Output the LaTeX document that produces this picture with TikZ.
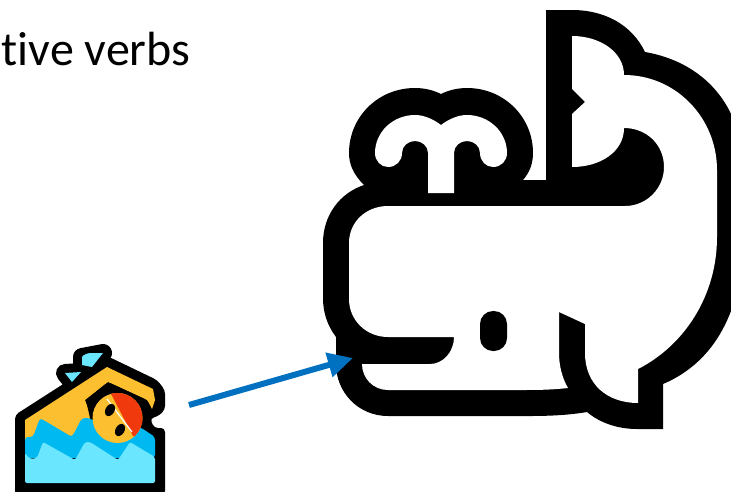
\documentclass[tikz,border=0pt]{standalone}
\usepackage{fontspec}
\setmainfont[Ligatures=NoCommon]{Carlito}
\usetikzlibrary{arrows.meta}
\definecolor{ArrowBlue}{HTML}{0070C0}
\definecolor{SwimYellow}{HTML}{FCBF30}
\definecolor{WaterDark}{HTML}{00B9F1}
\definecolor{WaterLight}{HTML}{6BE6FF}
\definecolor{CapRed}{HTML}{F1390E}
\tikzset{dropline/.style={draw=black,line width=18pt,line join=round}}

\begin{document}
\begin{tikzpicture}[x=1pt,y=-1pt,line join=round]
      \useasboundingbox (0,0) rectangle (731,491);
      \clip (0,0) rectangle (731,491);

      \node[anchor=base west,inner sep=0pt,font=\fontsize{48}{50}\selectfont] (verbs) at (1.5,65) {tive verbs};

      % whale
      \fill[black] (546,10) -- (572,10) .. controls (605,10) and (632,25) .. (645,52)
        .. controls (703,62) and (743,105) .. (743,170) -- (743,237)
        .. controls (743,310) and (715,362) .. (663,384) -- (663,429) -- (637,429)
        .. controls (618,429) and (600,423) .. (587,412)
        .. controls (570,415) and (550,416) .. (530,416) -- (388,416)
        .. controls (358,416) and (336,392) .. (336,364) -- (336,337)
        .. controls (327,325) and (323,312) .. (323,298) -- (323,243)
        .. controls (323,215) and (340,193) .. (364,185)
        .. controls (354,175) and (349,165) .. (349,153)
        .. controls (349,117) and (378,88) .. (415,88)
        .. controls (424,88) and (433,90) .. (441,94)
        .. controls (449,90) and (458,88) .. (467,88)
        .. controls (504,88) and (533,117) .. (533,153)
        .. controls (533,163) and (530,172) .. (523,180) -- (546,180) -- cycle;
      \fill[white] (572,36) .. controls (600,36) and (624,52) .. (624,75)
        .. controls (676,75) and (717,118) .. (717,170) -- (717,237)
        .. controls (717,295) and (685,345) .. (638,369) -- (638,403)
        .. controls (608,403) and (585,385) .. (585,353) -- (585,324) -- (559,312) -- (559,353)
        .. controls (559,365) and (562,378) .. (568,388)
        .. controls (550,390) and (535,390) .. (520,390) -- (388,390)
        .. controls (373,390) and (362,378) .. (362,364) -- (430,364)
        .. controls (443,364) and (454,352) .. (454,337) -- (388,337)
        .. controls (366,337) and (349,320) .. (349,299) -- (349,243)
        .. controls (349,222) and (366,206) .. (388,206) -- (625,206)
        .. controls (647,206) and (664,188) .. (664,167)
        .. controls (664,145) and (647,128) .. (624,128)
        .. controls (624,152) and (600,167) .. (572,167) -- (572,114) -- (585,102) -- (572,89) -- cycle;
      \fill[white] (441,125) .. controls (433,119) and (424,115) .. (415,115)
        .. controls (393,115) and (375,132) .. (375,153)
        .. controls (375,161) and (381,167) .. (388,167)
        .. controls (396,167) and (402,161) .. (402,153)
        .. controls (402,146) and (408,141) .. (415,141)
        .. controls (422,141) and (428,146) .. (428,153) -- (428,193) -- (454,193) -- (454,153)
        .. controls (454,146) and (460,141) .. (467,141)
        .. controls (474,141) and (480,146) .. (480,153)
        .. controls (480,161) and (486,167) .. (493,167)
        .. controls (501,167) and (507,161) .. (507,153)
        .. controls (507,132) and (489,115) .. (467,115)
        .. controls (458,115) and (449,119) .. (441,125) -- cycle;
      \fill[black,rounded corners=13pt] (480,311) rectangle (507,351);

      % swimmer
      \draw[dropline] (65,373) -- (81,372) -- (72,382) -- cycle;
      \draw[dropline] (82,357) -- (103,353) -- (92,367) -- (82,365) -- cycle;
      \fill[black,rounded corners=4pt] (15,415) -- (107,356) -- (157,380) -- (165,390)
        -- (165,410) -- (157,417) -- (150,418) -- (154,428) -- (165,428) -- (165,495) -- (15,495) -- cycle;
      \fill[SwimYellow] (25,420) -- (107,367) -- (153,389) -- (155,400) -- (152,409) -- (147,400)
        -- (108,382) -- (85,400) -- (100,440) -- (25,440) -- cycle;
      \fill[black,rounded corners=3pt] (86,400) -- (108,382) -- (147,400) -- (152,409) -- (148,422) -- (120,450) -- (95,440) -- cycle;
      \fill[WaterDark,rounded corners=3pt] (25,437) -- (33,437) -- (40,418) -- (72,437) -- (82,418) -- (90,418)
        -- (115,437) -- (140,427) -- (155,437) -- (155,458) -- (25,458) -- cycle;
      \fill[WaterLight,rounded corners=2pt] (25,453) -- (30,459) -- (37,458) -- (43,442) -- (75,460) -- (85,442)
        -- (90,442) -- (118,460) -- (130,442) -- (155,457) -- (155,483) -- (25,483) -- cycle;
      \fill[SwimYellow] (117.5,418) circle[radius=25];
      \begin{scope}
        \clip (117.5,418) circle[radius=25];
        \fill[CapRed] (109,390) -- (150,390) -- (150,440) -- (133,436) -- cycle;
      \end{scope}
      \draw[white,line width=1.2pt] (107,399) -- (132,432);
      \fill[black,rotate around={-30:(110,410)}] (110,410) ellipse[x radius=4.5,y radius=6.5];
      \fill[black,rotate around={-30:(120,430)}] (120,430) ellipse[x radius=4.5,y radius=6.5];
      \fill[WaterLight] (65,373) -- (81,372) -- (72,382) -- cycle;
      \fill[WaterLight] (82,357) .. controls (84,354) and (88,353) .. (92,353) -- (103,353) -- (92,367) -- (82,365) -- cycle;

      \coordinate (swimmer) at (189,405);
      \coordinate (mouth) at (353,358);
      \draw[ArrowBlue,line width=6pt,-{Triangle[length=25pt,width=24pt]}] (swimmer) -- (mouth);
    \end{tikzpicture}
\end{document}
